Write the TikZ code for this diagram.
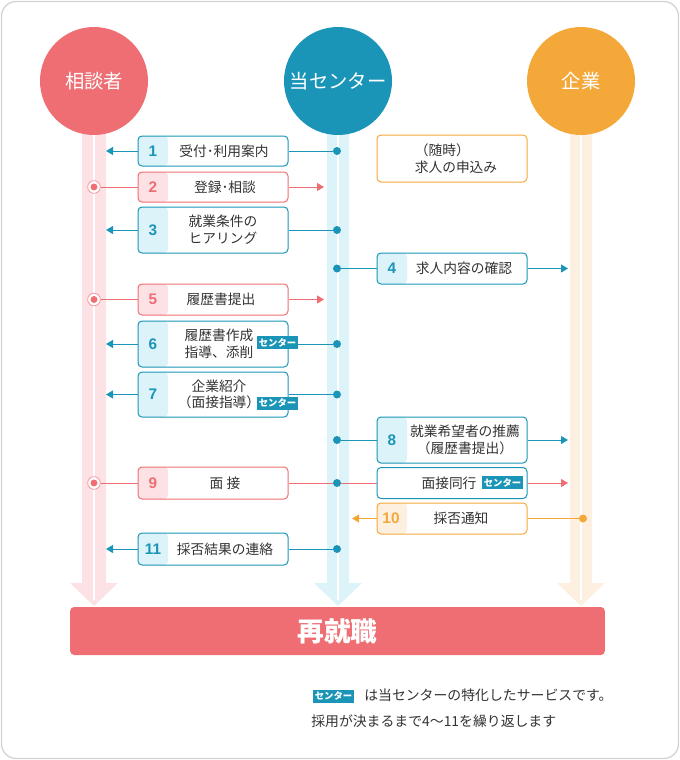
\documentclass[tikz,border=0pt]{standalone}
\usepackage{fontspec}
\setmainfont{Noto Sans CJK JP}
\newfontfamily\numfont{Liberation Sans}
\usetikzlibrary{arrows.meta}

\definecolor{pinkc}{HTML}{EE6E73}
\definecolor{bluec}{HTML}{1A95B8}
\definecolor{orangec}{HTML}{F5A83A}
\definecolor{pinkbg}{HTML}{FCE2E4}
\definecolor{bluebg}{HTML}{DDF3FA}
\definecolor{orangebg}{HTML}{FEF0E0}
\definecolor{framec}{HTML}{D4D4D4}
\definecolor{textc}{HTML}{333333}

\tikzset{
  actor/.style={circle, fill=#1, minimum size=81pt, inner sep=0pt, text=white, font=\fontsize{14.5}{16}\selectfont},
  flowbox/.style={draw=#1, fill=white, rounded corners=3pt, line width=0.75pt, minimum width=112.5pt, inner sep=0pt},
  stripe/.style={path picture={\fill[#1] (path picture bounding box.north west) rectangle ([xshift=22.5pt]path picture bounding box.south west);}},
  stepnum/.style={text=#1, font=\numfont\fontsize{11.5}{13}\selectfont\bfseries},
  boxtext/.style={text=textc, font=\fontsize{10.3}{12.5}\selectfont, align=center, inner sep=0pt},
  badge/.style={fill=bluec, text=white, minimum width=30.75pt, minimum height=9.75pt, inner sep=0pt, font=\fontsize{7}{8}\selectfont\bfseries},
  link/.style={draw=#1, line width=0.75pt},
  msg/.style={draw=#1, line width=0.75pt, -{Triangle[length=5.25pt, width=6pt]}},
  hubdot/.style={circle, fill=#1, inner sep=0pt, minimum size=6pt},
  startmark/.style={circle, draw=pinkc!70, fill=white, line width=0.6pt, inner sep=0pt, minimum size=9.5pt,
    path picture={\fill[pinkc] (path picture bounding box.center) circle (2.6pt);}},
  goal/.style={fill=pinkc, rounded corners=3pt, minimum width=401pt, minimum height=36pt, text=white, font=\fontsize{20}{22}\selectfont\bfseries},
  note/.style={text=textc, anchor=west, inner sep=0pt, font=\fontsize{10.4}{12}\selectfont}
}

\begin{document}
\begin{tikzpicture}[x=0.75pt, y=-0.75pt]
    \useasboundingbox (0,0) rectangle (680,760);

    % Frame
    \draw[framec, line width=1pt, rounded corners=11pt] (1.5,1.5) rectangle (678.5,758.5);

    % Lanes
    \fill[pinkbg] (82,100) -- (106,100) -- (106,583) -- (118,583) -- (94,606) -- (70,583) -- (82,583) -- cycle;
    \fill[bluebg] (327,100) -- (349,100) -- (349,583) -- (362,583) -- (338,606) -- (314,583) -- (327,583) -- cycle;
    \fill[orangebg] (570,100) -- (592,100) -- (592,583) -- (605,583) -- (581,606) -- (557,583) -- (570,583) -- cycle;
    \draw[white, line width=0.8pt] (94,100) -- (94,600);
    \draw[white, line width=0.8pt] (338,100) -- (338,600);
    \draw[white, line width=0.8pt] (581,100) -- (581,600);

    % Actors
    \node[actor=pinkc] (client) at (94,81) {相談者};
    \node[actor=bluec] (center) at (338,81) {当センター};
    \node[actor=orangec] (company) at (581,81) {企業};

    % 1
    \node[hubdot=bluec] (d1) at (337,151) {};
    \coordinate (e1) at (106,151);
    \node[flowbox=bluec, stripe=bluebg, minimum height=22.5pt] (b1) at (213,151) {};
    \draw[link=bluec] (d1) -- (b1);
    \draw[msg=bluec] (b1) -- (e1);
    \node[stepnum=bluec] (n1) at (153,151) {1};
    \node[boxtext] (t1) at (224,151) {受付･利用案内};

    % (anytime) job offers
    \node[flowbox=orangec, minimum height=35.25pt] (bq) at (452,158.5) {};
    \node[boxtext, align=left] (tq) at (456,158.5) {（随時）\\求人の申込み};

    % 2
    \node[startmark] (s2) at (94,187) {};
    \coordinate (e2) at (324,187);
    \node[flowbox=pinkc, stripe=pinkbg, minimum height=22.5pt] (b2) at (213,187) {};
    \draw[link=pinkc] (s2) -- (b2);
    \draw[msg=pinkc] (b2) -- (e2);
    \node[stepnum=pinkc] (n2) at (153,187) {2};
    \node[boxtext] (t2) at (225,187) {登録･相談};

    % 3
    \node[hubdot=bluec] (d3) at (337,230) {};
    \coordinate (e3) at (106,230);
    \node[flowbox=bluec, stripe=bluebg, minimum height=34.5pt] (b3) at (213,230) {};
    \draw[link=bluec] (d3) -- (b3);
    \draw[msg=bluec] (b3) -- (e3);
    \node[stepnum=bluec] (n3) at (153,230) {3};
    \node[boxtext] (t3) at (223,230) {就業条件の\\ヒアリング};

    % 4
    \node[hubdot=bluec] (d4) at (337,268.5) {};
    \coordinate (e4) at (568,268.5);
    \node[flowbox=bluec, stripe=bluebg, minimum height=23.25pt] (b4) at (452,268.5) {};
    \draw[link=bluec] (d4) -- (b4);
    \draw[msg=bluec] (b4) -- (e4);
    \node[stepnum=bluec] (n4) at (392,268.5) {4};
    \node[boxtext] (t4) at (464,268.5) {求人内容の確認};

    % 5
    \node[startmark] (s5) at (94,299.5) {};
    \coordinate (e5) at (324,299.5);
    \node[flowbox=pinkc, stripe=pinkbg, minimum height=23.25pt] (b5) at (213,299.5) {};
    \draw[link=pinkc] (s5) -- (b5);
    \draw[msg=pinkc] (b5) -- (e5);
    \node[stepnum=pinkc] (n5) at (153,299.5) {5};
    \node[boxtext] (t5) at (221,299.5) {履歴書提出};

    % 6
    \node[hubdot=bluec] (d6) at (337,344) {};
    \coordinate (e6) at (106,344);
    \node[flowbox=bluec, stripe=bluebg, minimum height=34.5pt] (b6) at (213,344) {};
    \draw[link=bluec] (d6) -- (b6);
    \draw[msg=bluec] (b6) -- (e6);
    \node[stepnum=bluec] (n6) at (153,344) {6};
    \node[boxtext] (t6) at (219,344) {履歴書作成\\指導、添削};
    \node[badge] (g6) at (277.5,342.5) {センター};

    % 7
    \node[hubdot=bluec] (d7) at (337,394.5) {};
    \coordinate (e7) at (106,394.5);
    \node[flowbox=bluec, stripe=bluebg, minimum height=33.75pt] (b7) at (213,394.5) {};
    \draw[link=bluec] (d7) -- (b7);
    \draw[msg=bluec] (b7) -- (e7);
    \node[stepnum=bluec] (n7) at (153,394.5) {7};
    \node[boxtext] (t7) at (219,394.5) {企業紹介\\（面接指導）};
    \node[badge] (g7) at (277.5,403) {センター};

    % 8
    \node[hubdot=bluec] (d8) at (337,440) {};
    \coordinate (e8) at (568,440);
    \node[flowbox=bluec, stripe=bluebg, minimum height=34.5pt] (b8) at (452,440) {};
    \draw[link=bluec] (d8) -- (b8);
    \draw[msg=bluec] (b8) -- (e8);
    \node[stepnum=bluec] (n8) at (392,440) {8};
    \node[boxtext] (t8) at (465,440) {就業希望者の推薦\\（履歴書提出）};

    % 9
    \node[startmark] (s9) at (94,483) {};
    \node[hubdot=bluec] (d9) at (337,483) {};
    \coordinate (e9) at (568,483);
    \node[flowbox=pinkc, stripe=pinkbg, minimum height=24pt] (b9) at (213,483) {};
    \node[flowbox=bluec, minimum height=23.25pt] (b9r) at (452,483) {};
    \draw[link=pinkc] (s9) -- (b9);
    \draw[link=pinkc] (b9) -- (d9);
    \draw[link=pinkc] (d9) -- (b9r);
    \draw[msg=pinkc] (b9r) -- (e9);
    \node[stepnum=pinkc] (n9) at (153,483) {9};
    \node[boxtext] (t9) at (225,483) {面 接};
    \node[boxtext] (t9r) at (449,483) {面接同行};
    \node[badge] (g9) at (502.5,482.5) {センター};

    % 10
    \node[hubdot=orangec] (d10) at (583,518.5) {};
    \coordinate (e10) at (352,518.5);
    \node[flowbox=orangec, stripe=orangebg, minimum height=23.25pt] (b10) at (452,518.5) {};
    \draw[link=orangec] (d10) -- (b10);
    \draw[msg=orangec] (b10) -- (e10);
    \node[stepnum=orangec] (n10) at (391,518.5) {10};
    \node[boxtext] (t10) at (461,518.5) {採否通知};

    % 11
    \node[hubdot=bluec] (d11) at (337,549) {};
    \coordinate (e11) at (106,549);
    \node[flowbox=bluec, stripe=bluebg, minimum height=24pt] (b11) at (213,549) {};
    \draw[link=bluec] (d11) -- (b11);
    \draw[msg=bluec] (b11) -- (e11);
    \node[stepnum=bluec] (n11) at (153,549) {11};
    \node[boxtext] (t11) at (225,549) {採否結果の連絡};

    % Goal
    \node[goal] (goal) at (337.5,631) {再就職};

    % Notes
    \node[badge] (g0) at (333.5,696) {センター};
    \node[note] (note1) at (364,695) {は当センターの特化したサービスです。};
    \node[note] (note2) at (311,721) {採用が決まるまで4～11を繰り返します};
\end{tikzpicture}
\end{document}
